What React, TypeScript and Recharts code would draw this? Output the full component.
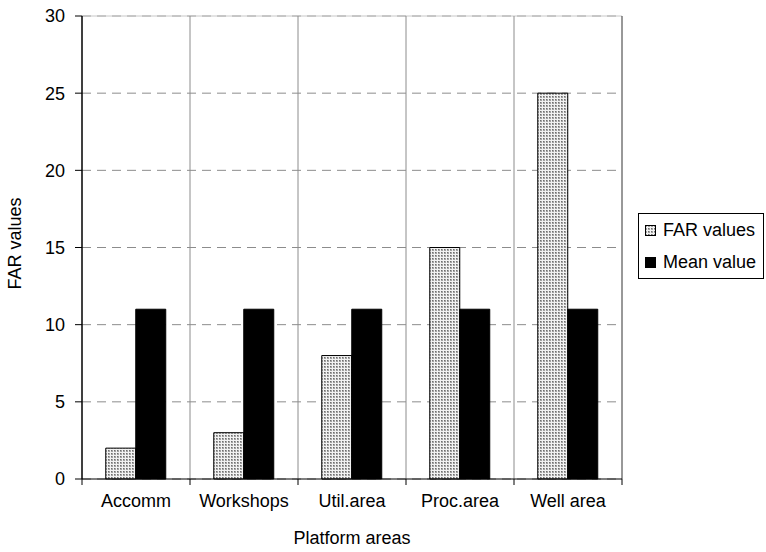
import React from 'react';
import { BarChart, Bar, XAxis, YAxis, CartesianGrid, ReferenceLine, Legend, Label } from 'recharts';

const categories = ['Accomm', 'Workshops', 'Util.area', 'Proc.area', 'Well area'];
const farValues = [2, 3, 8, 15, 25];
const meanValues = [11, 11, 11, 11, 11];
const yTicks = [0, 5, 10, 15, 20, 25, 30];

const data = categories.map((name, i) => ({ name, far: farValues[i], mean: meanValues[i] }));

const FONT = '"Liberation Sans", Arial, sans-serif';
const FS = 18;

function StippleDefs({ id }: { id: string }) {
  return (
    <pattern id={id} width="3" height="3" patternUnits="userSpaceOnUse">
      <rect width="3" height="3" fill="#f2f2f2" />
      <rect x="0" y="0" width="2" height="2" fill="#a2a2a2" />
      <rect x="0" y="0" width="1" height="1" fill="#6e6e6e" />
    </pattern>
  );
}

// separator line between categories, with a small tick below the axis
function sepLine(color: string) {
  return (props: any) => {
    const { x1, y1, x2, y2 } = props;
    const top = Math.min(y1, y2);
    const bottom = Math.max(y1, y2);
    return (
      <g>
        <line x1={x1} x2={x2} y1={top} y2={bottom} stroke={color} strokeWidth={1} />
        <line x1={x1} x2={x2} y1={bottom} y2={bottom + 6} stroke="#000" strokeWidth={1} />
      </g>
    );
  };
}

function LegendBox() {
  const row: React.CSSProperties = { display: 'flex', alignItems: 'center', height: 32 };
  return (
    <div style={{ boxSizing: 'border-box', width: 126, height: 66, border: '1px solid #000', background: '#fff', paddingLeft: 6, fontFamily: FONT, fontSize: FS, color: '#000', whiteSpace: 'nowrap' }}>
      <div style={row}>
        <svg width="11" height="11" style={{ marginRight: 7 }}>
          <defs><StippleDefs id="stippleLegend" /></defs>
          <rect x="0.5" y="0.5" width="10" height="10" fill="url(#stippleLegend)" stroke="#000" />
        </svg>
        FAR values
      </div>
      <div style={row}>
        <svg width="11" height="11" style={{ marginRight: 7 }}>
          <rect x="0.5" y="0.5" width="10" height="10" fill="#000" stroke="#000" />
        </svg>
        Mean value
      </div>
    </div>
  );
}

export default function App() {
  return (
    <div style={{ position: 'absolute', left: 0, top: 0, width: 766, height: 552, background: '#fff' }}>
      <BarChart
        width={766}
        height={552}
        data={data}
        margin={{ top: 16, right: 144, bottom: 0, left: 0 }}
        barCategoryGap="22%"
        barGap={0}
        style={{ fontFamily: FONT }}
      >
        <defs>
          <StippleDefs id="stipple" />
        </defs>
        <CartesianGrid vertical={false} stroke="#8c8c8c" strokeDasharray="9 6" />
        <XAxis
          dataKey="name"
          height={73}
          stroke="#000"
          tickLine={false}
          tickSize={6}
          tickMargin={9}
          tick={{ fill: '#000', fontSize: FS }}
          interval={0}
        >
          <Label value="Platform areas" position="insideBottom" offset={8} style={{ fill: '#000', fontSize: FS }} />
        </XAxis>
        <YAxis
          width={82}
          domain={[0, 30]}
          ticks={yTicks}
          interval={0}
          stroke="#000"
          tickSize={7}
          tickMargin={10}
          tick={{ fill: '#000', fontSize: FS }}
        >
          <Label
            content={({ viewBox }: any) => {
              const cy = viewBox.y + viewBox.height / 2 - 4;
              return (
                <text x={15} y={cy} transform={`rotate(-90 15 ${cy})`} textAnchor="middle" dominantBaseline="central" fill="#000" fontSize={FS} fontFamily={FONT}>
                  FAR values
                </text>
              );
            }}
          />
        </YAxis>
        <ReferenceLine y={30} stroke="#c8c8c8" />
        <ReferenceLine x={categories[0]} position="start" shape={sepLine('#000')} />
        {categories.slice(1).map((c) => (
          <ReferenceLine key={c} x={c} position="start" shape={sepLine('#8c8c8c')} />
        ))}
        <ReferenceLine x={categories[categories.length - 1]} position="end" shape={sepLine('#333')} />
        <Bar dataKey="far" name="FAR values" fill="url(#stipple)" stroke="#000" strokeWidth={1} isAnimationActive={false} />
        <Bar dataKey="mean" name="Mean value" fill="#000" stroke="#000" strokeWidth={1} isAnimationActive={false} />
        <Legend
          layout="horizontal"
          align="center"
          verticalAlign="middle"
          content={() => <LegendBox />}
          wrapperStyle={{ left: 638, top: 213, width: 126 }}
        />
      </BarChart>
    </div>
  );
}
